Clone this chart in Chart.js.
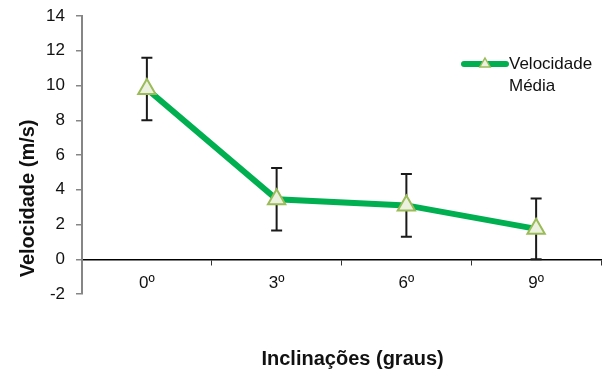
<!DOCTYPE html>
<html>
<head>
<meta charset="utf-8">
<script src="https://cdn.jsdelivr.net/npm/chart.js@4"></script>
<style>
  html, body { margin: 0; padding: 0; background: #fff; }
  #chart { display: block; }
</style>
</head>
<body>
<canvas id="chart" width="603" height="369"></canvas>
<script>
// data
const categories = ['0º', '3º', '6º', '9º'];
const velocidadeMedia = [9.8, 3.45, 3.1, 1.75];
const desvio = [1.8, 1.8, 1.8, 1.75];
const yTicks = [-2, 0, 2, 4, 6, 8, 10, 12, 14];
const legendLines = ['Velocidade', 'Média'];

const FONT = '"Liberation Sans", Arial, sans-serif';
const GREEN = '#00b050';
Chart.defaults.font.family = FONT;

// vertical error bars, drawn under the line
const errorBars = {
  id: 'errorBars',
  beforeDatasetsDraw(chart) {
    const { ctx, scales: { x, y } } = chart;
    ctx.save();
    ctx.strokeStyle = '#1a1a1a';
    ctx.lineWidth = 2;
    velocidadeMedia.forEach((v, i) => {
      const px = x.getPixelForValue(i);
      const top = y.getPixelForValue(v + desvio[i]);
      const bot = y.getPixelForValue(v - desvio[i]);
      ctx.beginPath();
      ctx.moveTo(px, top); ctx.lineTo(px, bot);
      ctx.moveTo(px - 5.5, top); ctx.lineTo(px + 5.5, top);
      ctx.moveTo(px - 5.5, bot); ctx.lineTo(px + 5.5, bot);
      ctx.stroke();
    });
    ctx.restore();
  }
};

// legend on the right, label split over two lines
const sideLegend = {
  id: 'sideLegend',
  afterDraw(chart) {
    const { ctx } = chart;
    const lx = 464, ly = 64;
    ctx.save();
    ctx.strokeStyle = GREEN;
    ctx.lineWidth = 6;
    ctx.lineCap = 'round';
    ctx.beginPath(); ctx.moveTo(lx, ly); ctx.lineTo(lx + 42, ly); ctx.stroke();
    const cx = lx + 21, r = 6;
    ctx.beginPath();
    ctx.moveTo(cx, ly - r);
    ctx.lineTo(cx + r * 0.866, ly + r / 2);
    ctx.lineTo(cx - r * 0.866, ly + r / 2);
    ctx.closePath();
    ctx.fillStyle = '#ebf1de'; ctx.fill();
    ctx.strokeStyle = '#9bbb59'; ctx.lineWidth = 1.5; ctx.stroke();
    ctx.fillStyle = '#111';
    ctx.font = '17px ' + FONT;
    ctx.textBaseline = 'middle';
    legendLines.forEach((t, i) => ctx.fillText(t, lx + 45, ly + i * 22));
    ctx.restore();
  }
};

new Chart(document.getElementById('chart'), {
  type: 'line',
  data: {
    labels: categories,
    datasets: [{
      label: legendLines.join(' '),
      data: velocidadeMedia,
      borderColor: GREEN,
      borderWidth: 6,
      tension: 0,
      pointStyle: 'triangle',
      pointRadius: 10,
      pointBackgroundColor: '#ebf1de',
      pointBorderColor: '#9bbb59',
      pointBorderWidth: 2
    }]
  },
  options: {
    responsive: false,
    animation: false,
    layout: { autoPadding: false, padding: { top: 16, right: 2, bottom: 75, left: 0 } },
    plugins: { legend: { display: false }, tooltip: { enabled: false } },
    scales: {
      x: {
        position: { y: 0 },
        offset: true,
        afterFit: s => { s.paddingLeft = 0; s.paddingRight = 0; },
        border: { color: '#000', width: 1.5 },
        grid: { offset: true, drawOnChartArea: false, color: '#333', tickLength: 5 },
        ticks: { color: '#111', font: { size: 17 }, padding: 9 },
        title: {
          display: true, text: '    Inclinações (graus)', color: '#111',
          font: { size: 20, weight: 'bold' }, padding: { top: 45, bottom: 0 }
        }
      },
      y: {
        min: -2, max: 14,
        afterFit: s => { s.width = 82; s.paddingTop = 0; s.paddingBottom = 0; },
        afterBuildTicks: s => { s.ticks = yTicks.map(v => ({ value: v })); },
        border: { color: '#868686', width: 2 },
        grid: { drawOnChartArea: false, color: '#868686', tickLength: 6, lineWidth: 1.5 },
        ticks: { color: '#111', font: { size: 17 }, padding: 11 },
        title: {
          display: true, text: '   Velocidade (m/s)', align: 'start', color: '#111',
          font: { size: 20, weight: 'bold' }, padding: { top: 16, bottom: 0 }
        }
      }
    }
  },
  plugins: [errorBars, sideLegend]
});
</script>
</body>
</html>
